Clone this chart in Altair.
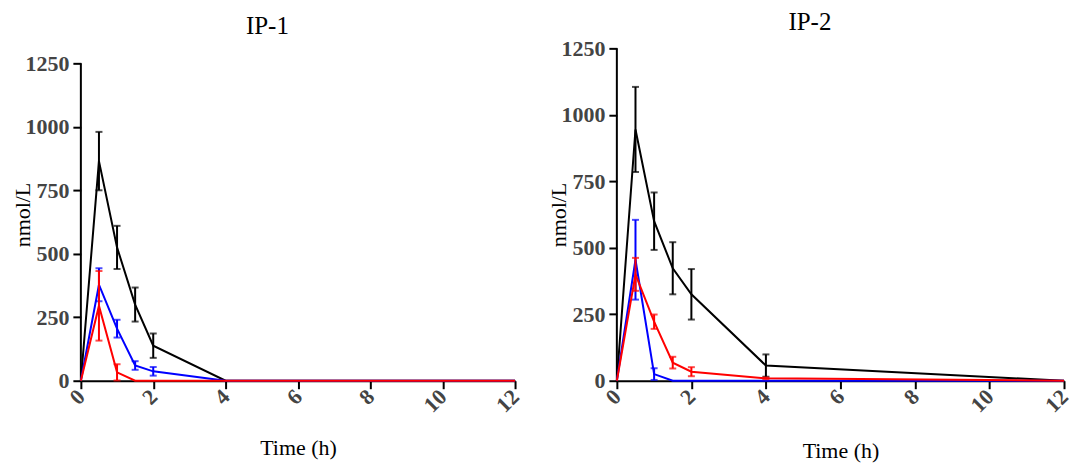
import altair as alt
import pandas as pd

# DATA ---------------------------------------------------
time = [0, 0.5, 1, 1.5, 2, 4, 12]
series = ['black', 'blue', 'red']
x_ticks = [0, 2, 4, 6, 8, 10, 12]
y_ticks = [0, 250, 500, 750, 1000, 1250]

ip1_black = [0, 865, 525, 300, 138, 0, 0]
ip1_black_sd = [0, 115, 85, 67, 48, 0, 0]
ip1_blue = [0, 378, 205, 60, 37, 0, 0]
ip1_blue_sd = [0, 65, 35, 17, 17, 0, 0]
ip1_red = [0, 295, 33, 0, 0, 0, 0]
ip1_red_sd = [0, 137, 32, 0, 0, 0, 0]

ip2_black = [0, 945, 600, 423, 325, 57, 0]
ip2_black_sd = [0, 160, 108, 98, 95, 42, 0]
ip2_blue = [0, 455, 25, 0, 0, 0, 0]
ip2_blue_sd = [0, 150, 22, 0, 0, 0, 0]
ip2_red = [0, 400, 222, 68, 34, 9, 0]
ip2_red_sd = [0, 62, 27, 22, 17, 3, 0]

SERIF = 'Liberation Serif'
H = 333  # both panels share the same plot height, left one has empty headroom


def make_df(means, sds):
    rows = []
    for name, m, s in zip(series, means, sds):
        for t, v, e in zip(time, m, s):
            rows.append({'time': t, 'conc': v, 'sd': e, 'grp': name,
                         'lo': v - e, 'hi': v + e})
    return pd.DataFrame(rows)


def panel(df, title, width, axis_px, title_off, xtitle_pad):
    # axis_px = pixel height of the 0..1250 part of the y axis
    ymax = y_ticks[-1] * H / axis_px
    yscale = alt.Scale(domain=[0, ymax], nice=False)
    x = alt.X('time:Q', title='Time (h)',
              scale=alt.Scale(domain=[x_ticks[0], x_ticks[-1]], nice=False),
              axis=alt.Axis(values=x_ticks, labelAngle=315, labelAlign='right',
                            labelBaseline='middle', titlePadding=xtitle_pad))
    y = alt.Y('conc:Q', title='nmol/L', scale=yscale,
              axis=alt.Axis(values=y_ticks, format='d', domain=False))

    # y axis line only up to the last tick
    ax = pd.DataFrame({'time': [x_ticks[0]], 'y0': [y_ticks[0]], 'y1': [y_ticks[-1]]})
    layers = [alt.Chart(ax).mark_rule(color='black', strokeWidth=2).encode(
        x=x, y=alt.Y('y0:Q', scale=yscale), y2='y1:Q')]

    for name in series:
        d = df[df['grp'] == name]
        err = d[d['sd'] > 0]
        line = alt.Chart(d).mark_line(color=name, strokeWidth=2).encode(x=x, y=y)
        stem = alt.Chart(err).mark_rule(color=name, strokeWidth=2).encode(
            x='time:Q', y='lo:Q', y2='hi:Q')
        cap_hi = alt.Chart(err).mark_tick(color=name, orient='horizontal',
                                          size=7, thickness=2).encode(
            x='time:Q', y='hi:Q')
        cap_lo = alt.Chart(err).mark_tick(color=name, orient='horizontal',
                                          size=7, thickness=2).encode(
            x='time:Q', y='lo:Q')
        layers += [line, stem, cap_hi, cap_lo]
    return alt.layer(*layers).properties(
        width=width, height=H,
        title=alt.TitleParams(title, font=SERIF, fontSize=25, fontWeight='normal',
                              color='black', frame='bounds', offset=title_off))


left = panel(make_df([ip1_black, ip1_blue, ip1_red],
                     [ip1_black_sd, ip1_blue_sd, ip1_red_sd]),
             'IP-1', 435, 318, 9, 22)
right = panel(make_df([ip2_black, ip2_blue, ip2_red],
                      [ip2_black_sd, ip2_blue_sd, ip2_red_sd]),
              'IP-2', 448, 333, 2, 25)

chart = alt.hconcat(left, right, spacing=25).properties(
    padding={'left': 4, 'right': 0, 'top': 2, 'bottom': 0}
).configure_view(
    stroke=None
).configure_axis(
    grid=False,
    domainColor='black', domainWidth=2,
    tickColor='black', tickWidth=2, tickSize=8,
    labelFont=SERIF, labelFontSize=22, labelFontWeight='bold', labelColor='#444444',
    labelPadding=4,
    titleFont=SERIF, titleFontSize=22, titleFontWeight='normal', titleColor='black',
).configure_axisY(
    titlePadding=-10
)

chart.save("out.html", embed_options={"renderer": "svg", "actions": False})
